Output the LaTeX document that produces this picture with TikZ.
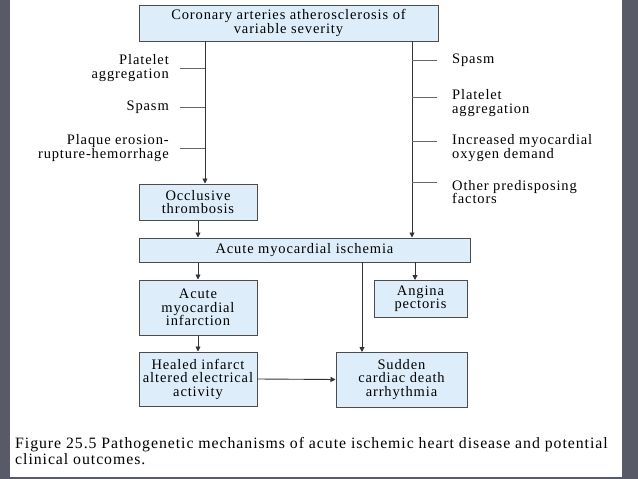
\documentclass[tikz,border=0pt]{standalone}
\usepackage{fontspec}
\setmainfont[LetterSpace=6]{Liberation Serif}
\usetikzlibrary{arrows.meta}
\definecolor{boxfill}{HTML}{DDEEFA}
\definecolor{side}{HTML}{585A68}
\begin{document}
\begin{tikzpicture}[x=1pt,y=-1pt,
    box/.style={draw=black!70, fill=boxfill, line width=1pt, align=center, font=\fontsize{14.5}{13.5}\selectfont, inner sep=0pt},
    lab/.style={font=\fontsize{14.5}{13.5}\selectfont, inner sep=0pt},
    arr/.style={-{Triangle[length=5pt,width=5pt]}, line width=0.9pt, black!80},
    tick/.style={line width=0.7pt, black!60}]
  \fill[side] (0,0) rectangle (638,479);
  \fill[white] (10,0) rectangle (622,477);
  % boxes
  \node[box, minimum width=299, minimum height=36] (top) at (288.5,23) {Coronary arteries atherosclerosis of\\variable severity};
  \node[box, minimum width=118, minimum height=36] (occ) at (198,202) {Occlusive\\thrombosis};
  \node[box, minimum width=331, minimum height=24] (isc) at (304.5,250) {Acute myocardial ischemia};
  \node[box, minimum width=118, minimum height=55] (ami) at (198,307.5) {Acute\\myocardial\\infarction};
  \node[box, minimum width=93, minimum height=37] (ang) at (420.5,298.5) {Angina\\pectoris};
  \node[box, minimum width=118, minimum height=54] (hea) at (198,379) {Healed infarct\\altered electrical\\activity};
  \node[box, minimum width=131, minimum height=55] (sud) at (401.5,379.5) {Sudden\\cardiac death\\arrhythmia};
  % trunk junctions
  \coordinate (lt) at (205,41);
  \coordinate (rt) at (412,41);
  \draw[arr] (lt) -- (lt |- occ.north);
  \draw[arr] (rt) -- (rt |- isc.north);
  % left side factors
  \foreach \y/\t [count=\i] in {68/{Platelet\\aggregation}, 107/{Spasm}, 148/{Plaque erosion-\\rupture-hemorrhage}} {
    \coordinate (l\i) at (180,\y);
    \draw[tick] (l\i) -- (205,\y);
    \node[lab, anchor=east, align=right] (ln\i) at (169,\y) {\t};
  }
  % right side factors
  \foreach \y/\ty/\t [count=\i] in {60/60/{Spasm}, 97/103/{Platelet\\aggregation}, 141/148/{Increased myocardial\\oxygen demand}, 182/192/{Other predisposing\\factors}} {
    \coordinate (r\i) at (437,\y);
    \draw[tick] (412,\y) -- (r\i);
    \node[lab, anchor=west, align=left] (rn\i) at (452,\ty) {\t};
  }
  % flow arrows
  \draw[arr] (occ.south) -- (occ.south |- isc.north);
  \draw[arr] (ami.north |- isc.south) -- (ami.north);
  \draw[arr] (hea.north |- ami.south) -- (hea.north);
  \draw[arr] (415,262) -- (415,280);
  \draw[arr] (362,262) -- (362,352);
  \draw[arr] (hea.east) -- (sud.west);
  % caption
  \node[lab, anchor=north west, align=left, font=\fontsize{15.8}{16}\selectfont] (cap) at (15,437)
    {Figure 25.5 Pathogenetic mechanisms of acute ischemic heart disease and potential\\clinical outcomes.};
\end{tikzpicture}
\end{document}
